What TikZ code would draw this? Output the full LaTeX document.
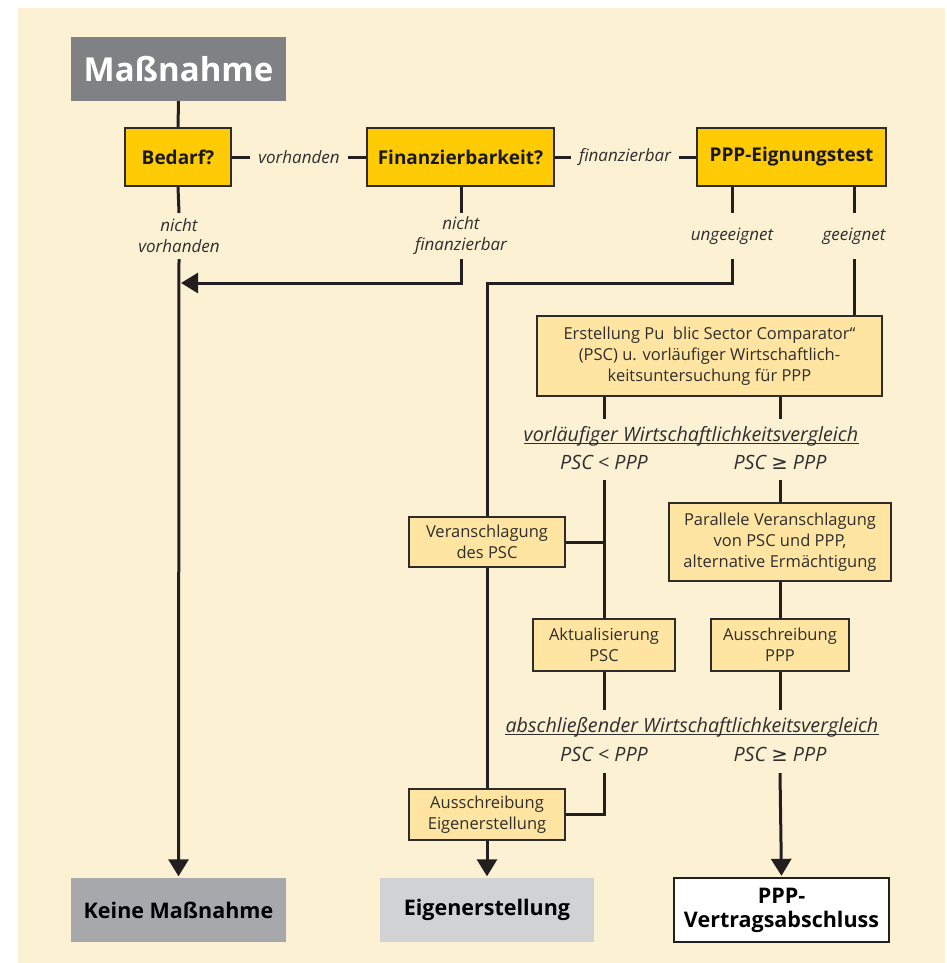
\documentclass[tikz,border=0pt]{standalone}
\usepackage{fontspec}
\setmainfont{Open Sans}
\newfontfamily\symf{DejaVu Sans}
\usetikzlibrary{arrows.meta,backgrounds}
\definecolor{bgc}{HTML}{FDF1D3}
\definecolor{goldc}{HTML}{FFCB05}
\definecolor{lightc}{HTML}{FFE5A1}
\definecolor{linec}{HTML}{231F20}
\definecolor{boxline}{HTML}{2E2B2B}
\definecolor{txt}{HTML}{2E2E2E}
\definecolor{darkgray}{HTML}{808184}
\definecolor{midgray}{HTML}{A7A8AB}
\definecolor{lightgray}{HTML}{D1D2D4}
\tikzset{
  box/.style={draw=boxline, line width=1.3pt, inner sep=0pt, align=center, text=txt},
  goldbox/.style={box, fill=goldc, minimum height=58pt, font=\fontsize{19}{22}\selectfont\bfseries, text=black!90},
  lightbox/.style={box, fill=lightc, font=\fontsize{16.5}{21}\selectfont},
  endbox/.style={inner sep=0pt, align=center, minimum width=215pt, minimum height=64pt, font=\fontsize{21.5}{24}\selectfont\bfseries, text=black},
  lbl/.style={inner sep=0pt, align=center, text=txt, font=\fontsize{17}{21}\selectfont\itshape},
  midlbl/.style={lbl, font=\fontsize{19.7}{21}\selectfont\itshape},
  uline/.style={line width=0.8pt, draw=txt},
  conn/.style={line width=3pt, draw=linec},
  arr/.style={conn, -{Triangle[length=17pt,width=20pt]}}
}
\begin{document}
\begin{tikzpicture}[x=1pt,y=-1pt]
\useasboundingbox (0,0) rectangle (946,963);
\begin{scope}[on background layer]
  \fill[bgc] (18,8) rectangle (945,963);
\end{scope}

% top row
\node[fill=darkgray, inner sep=0pt, minimum width=215pt, minimum height=64pt, text=white, font=\fontsize{33}{38}\selectfont\bfseries] (mass) at (178.5,69) {Maßnahme};
\node[goldbox, minimum width=106pt] (bedarf) at (178,157) {Bedarf?};
\node[goldbox, minimum width=187pt] (fin) at (460.5,157) {Finanzierbarkeit?};
\node[goldbox, minimum width=189pt] (ppp) at (791.5,157) {PPP-Eignungstest};

% labels
\node[lbl, minimum width=98pt] (vh) at (299,157) {vorhanden};
\node[lbl, minimum width=108pt] (fb) at (625,157) {finanzierbar};
\node[lbl, minimum height=46pt] (nv) at (179,236) {nicht\\vorhanden};
\node[lbl, minimum height=46pt] (nf) at (461,236) {nicht\\finanzierbar};
\node[lbl, minimum height=46pt] (ung) at (732,236) {ungeeignet};
\node[lbl, minimum height=46pt] (gee) at (854,236) {geeignet};

% middle boxes
\node[lightbox, minimum width=345pt, minimum height=80pt] (erst) at (709.5,356) {Erstellung Pu\ \ blic Sector Comparator“\\(PSC) u. vorläufiger Wirtschaftlich-\\keitsuntersuchung für PPP};
\node[midlbl, minimum height=34pt] (vorl) at (691,436) {vorläufiger Wirtschaftlichkeitsvergleich};
\node[midlbl, minimum height=36pt] (lt1) at (604,462) {PSC < PPP};
\node[midlbl, minimum height=36pt] (ge1) at (780,462) {PSC {\symf ≥} PPP};
\node[lightbox, minimum width=156pt, minimum height=50pt] (veran) at (487,542) {Veranschlagung\\des PSC};
\node[lightbox, minimum width=222pt, minimum height=78pt] (para) at (780,542) {Parallele Veranschlagung\\von PSC und PPP,\\alternative Ermächtigung};
\node[lightbox, minimum width=142pt, minimum height=52pt] (akt) at (604,645) {Aktualisierung\\PSC};
\node[lightbox, minimum width=138pt, minimum height=52pt] (ausppp) at (780,645) {Ausschreibung\\PPP};
\node[midlbl, minimum height=34pt] (abs) at (692,727) {abschließender Wirtschaftlichkeitsvergleich};
\node[midlbl, minimum height=38pt] (lt2) at (604,754) {PSC < PPP};
\node[midlbl, minimum height=38pt] (ge2) at (780,754) {PSC {\symf ≥} PPP};
\node[lightbox, minimum width=156pt, minimum height=51pt] (auseig) at (487,814.5) {Ausschreibung\\Eigenerstellung};

% underlines
\draw[uline] ([yshift=-2.5pt]vorl.base west) -- ([yshift=-2.5pt]vorl.base east);
\draw[uline] ([yshift=-2.5pt]abs.base west) -- ([yshift=-2.5pt]abs.base east);

% end boxes
\node[endbox, fill=midgray] (keine) at (178.5,910) {Keine Maßnahme};
\node[endbox, fill=lightgray, minimum width=214pt] (eigen) at (487,910) {Eigenerstellung};
\node[endbox, draw=linec, line width=1.3pt, fill=white] (vertrag) at (781.5,910) {PPP-\\Vertragsabschluss};

\coordinate (join) at (181,283);
\coordinate (row) at (0,283);

\begin{scope}[on background layer]
  \draw[conn] (mass.south) -- (bedarf.north);
  \draw[conn] (bedarf.east) -- (vh.west);
  \draw[conn] (vh.east) -- (fin.west);
  \draw[conn] (fin.east) -- (fb.west);
  \draw[conn] (fb.east) -- (ppp.west);
  \draw[conn] (bedarf.south) -- (nv.north);
  \draw[arr, shorten >=1.5pt] (nv.south) -- (keine.north);
  \draw[conn] (fin.south -| nf) -- (nf.north);
  \draw[arr] (nf.south) |- (join);
  \draw[conn] (ppp.south -| ung) -- (ung.north);
  \draw[conn] (ppp.south -| gee) -- (gee.north);
  \draw[conn] (ung.south) |- (auseig.north |- row) -- (auseig.north);
  \draw[conn] (gee.south) -- (gee.south |- erst.north);
  \draw[conn] (erst.south -| lt1) -- (lt1 |- vorl.north);
  \draw[conn] (erst.south -| ge1) -- (ge1 |- vorl.north);
  \draw[conn] (lt1.south) -- (akt.north);
  \draw[conn] (veran.east) -- (veran.east -| lt1);
  \draw[conn] (ge1.south) -- (para.north);
  \draw[conn] (para.south) -- (ausppp.north);
  \draw[conn] (akt.south) -- (akt.south |- abs.north);
  \draw[conn] (ausppp.south) -- (ausppp.south |- abs.north);
  \draw[conn] (lt2.south) |- (auseig.east);
  \draw[arr, shorten >=1.5pt] (auseig.south) -- (eigen.north);
  \draw[arr, shorten >=1.5pt] (ge2.south) -- (vertrag.north);
\end{scope}
\end{tikzpicture}
\end{document}
